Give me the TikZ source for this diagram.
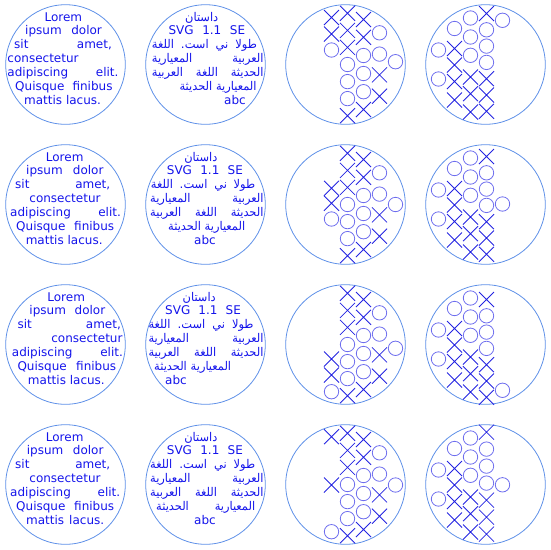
\documentclass[tikz,border=0pt]{standalone}
\usepackage{fontspec}
\setmainfont{DejaVu Sans}
\newfontfamily\arabicfont[Script=Arabic, FakeStretch=0.95]{DejaVu Sans}
\TeXXeTstate=1
\definecolor{rimblue}{RGB}{95,145,232}
\definecolor{textblue}{RGB}{20,20,235}
\definecolor{crossblue}{RGB}{35,35,225}
\definecolor{ringblue}{RGB}{110,110,238}
\newcommand{\ar}[1]{{\arabicfont\beginR #1\endR}}
\newcommand{\jl}[5]{\node[txt, anchor=base west] (#1) at (#2,#3) {\makebox[#4pt][s]{#5}};}

\begin{document}
\begin{tikzpicture}[x=1pt, y=-1pt,
    rim/.style={draw=rimblue, line width=0.8pt},
    txt/.style={text=textblue, inner sep=0pt, font=\fontsize{12}{14}\selectfont},
    crossglyph/.style={draw=crossblue, line width=0.8pt},
    ringglyph/.style={draw=ringblue, line width=0.8pt}
]
\useasboundingbox (0,0) rectangle (550,550);

\foreach \r in {0,...,3}
  \foreach \c in {0,...,3}
    \draw[rim] ({65.5+140*\c},{64.5+140*\r}) circle[radius=59.8];

% row 1
\node[txt, anchor=base] (lat1a) at (63.3,21) {Lorem};
\jl{lat1b}{25}{34.9}{76.7}{ipsum\hfill dolor}
\jl{lat1c}{14}{48.8}{97.7}{sit\hfill amet,}
\node[txt, anchor=base west] (lat1d) at (7.3,62.7) {consectetur};
\jl{lat1e}{7.3}{76.6}{111}{adipiscing\hfill elit.}
\jl{lat1f}{15}{90.5}{97.3}{Quisque\hfill finibus}
\node[txt, anchor=base west] (lat1g) at (24,104.4) {mattis lacus.};

\node[txt, anchor=base] (ara1a) at (201.7,21) {\ar{داستان}};
\jl{ara1b}{168.3}{34.9}{76.7}{SVG\hfill 1.1\hfill SE}
\jl{ara1c}{151.7}{48.8}{105}{\ar{اللغة}\hfill .\ar{است}\hfill\ar{ني}\hfill\ar{طولا}}
\jl{ara1d}{151.7}{62.7}{111.6}{\ar{المعيارية}\hfill\ar{العربية}}
\jl{ara1e}{151.7}{76.6}{111.6}{\ar{العربية}\hfill\ar{اللغة}\hfill\ar{الحديثة}}
\node[txt, anchor=base east] (ara1f) at (256.7,90.5) {\ar{الحديثة} \ar{المعيارية}};
\node[txt, anchor=base east] (ara1g) at (246,104.4) {abc};

% row 2
\begin{scope}[shift={(0,140)}]
\node[txt, anchor=base] (lat2a) at (64.7,21) {Lorem};
\jl{lat2b}{26}{34.9}{77.3}{ipsum\hfill dolor}
\jl{lat2c}{15}{48.8}{95}{sit\hfill amet,}
\node[txt, anchor=base] (lat2d) at (65,62.7) {consectetur};
\jl{lat2e}{10}{76.6}{110.7}{adipiscing\hfill elit.}
\jl{lat2f}{16}{90.5}{98}{Quisque\hfill finibus}
\node[txt, anchor=base] (lat2g) at (64.2,104.4) {mattis lacus.};

\node[txt, anchor=base] (ara2a) at (200.8,21) {\ar{داستان}};
\jl{ara2b}{166.7}{34.9}{76}{SVG\hfill 1.1\hfill SE}
\jl{ara2c}{150.7}{48.8}{104.3}{\ar{اللغة}\hfill .\ar{است}\hfill\ar{ني}\hfill\ar{طولا}}
\jl{ara2d}{150}{62.7}{113.3}{\ar{المعيارية}\hfill\ar{العربية}}
\jl{ara2e}{150}{76.6}{113.3}{\ar{العربية}\hfill\ar{اللغة}\hfill\ar{الحديثة}}
\node[txt, anchor=base] (ara2f) at (206.7,90.5) {\ar{الحديثة} \ar{المعيارية}};
\node[txt, anchor=base] (ara2g) at (205,104.4) {abc};
\end{scope}

% row 3
\begin{scope}[shift={(0,280)}]
\node[txt, anchor=base] (lat3a) at (66.2,21) {Lorem};
\jl{lat3b}{29.3}{34.9}{75.7}{ipsum\hfill dolor}
\jl{lat3c}{17.3}{48.8}{103.4}{sit\hfill amet,}
\node[txt, anchor=base east] (lat3d) at (122.7,62.7) {consectetur};
\jl{lat3e}{11.7}{76.6}{111}{adipiscing\hfill elit.}
\jl{lat3f}{17.3}{90.5}{98.7}{Quisque\hfill finibus}
\node[txt, anchor=base east] (lat3g) at (105,104.4) {mattis lacus.};

\node[txt, anchor=base] (ara3a) at (199.2,21) {\ar{داستان}};
\jl{ara3b}{165}{34.9}{75.7}{SVG\hfill 1.1\hfill SE}
\jl{ara3c}{148.3}{48.8}{105}{\ar{اللغة}\hfill .\ar{است}\hfill\ar{ني}\hfill\ar{طولا}}
\jl{ara3d}{148.3}{62.7}{115}{\ar{المعيارية}\hfill\ar{العربية}}
\jl{ara3e}{148.3}{76.6}{115}{\ar{العربية}\hfill\ar{اللغة}\hfill\ar{الحديثة}}
\node[txt, anchor=base west] (ara3f) at (154,90.5) {\ar{الحديثة} \ar{المعيارية}};
\node[txt, anchor=base west] (ara3g) at (165,104.4) {abc};
\end{scope}

% row 4
\begin{scope}[shift={(0,420)}]
\node[txt, anchor=base] (lat4a) at (64.7,21) {Lorem};
\jl{lat4b}{26.7}{34.9}{76.6}{ipsum\hfill dolor}
\jl{lat4c}{15}{48.8}{95}{sit\hfill amet,}
\node[txt, anchor=base] (lat4d) at (65,62.7) {consectetur};
\jl{lat4e}{10}{76.6}{110}{adipiscing\hfill elit.}
\jl{lat4f}{16}{90.5}{98}{Quisque\hfill finibus}
\jl{lat4g}{26}{104.4}{78}{mattis\hfill lacus.}

\node[txt, anchor=base] (ara4a) at (200.8,21) {\ar{داستان}};
\jl{ara4b}{166.7}{34.9}{76}{SVG\hfill 1.1\hfill SE}
\jl{ara4c}{150}{48.8}{105}{\ar{اللغة}\hfill .\ar{است}\hfill\ar{ني}\hfill\ar{طولا}}
\jl{ara4d}{150}{62.7}{113.3}{\ar{المعيارية}\hfill\ar{العربية}}
\jl{ara4e}{150}{76.6}{113.3}{\ar{العربية}\hfill\ar{اللغة}\hfill\ar{الحديثة}}
\jl{ara4f}{156}{90.5}{99}{\ar{الحديثة}\hfill\ar{المعيارية}}
\node[txt, anchor=base] (ara4g) at (205,104.4) {abc};
\end{scope}

% vertical glyph columns, right to left
\foreach \r/\ya/\yb/\yc/\ye in {0/-47/-30.5/-14.5/-2.8, 1/-16.2/-1.2/14.5/0,
    2/14.5/30.5/47.2/3.8, 3/-47.8/0.5/47.2/0.5} {
  \begin{scope}[shift={(345.5,{64.5+140*\r})}]
    \foreach \x/\y in {2/-51.2, 2/-34.1, 2/-17.1, 2/51.2, 18/-45, 18/-27.2, 18/45,
        34/10.4, 34/31.7, -14/\ya, -14/\yb}
      \draw[crossglyph] (\x,\y) ++(-7.5,-7.5) -- ++(15,15) ++(-15,0) -- ++(15,-15);
    \foreach \x/\y in {2/0, 2/17.1, 2/34.1, 18/-9, 18/9, 18/27.2, 34/-31.7, 34/-10.4,
        -14/\yc, 50/\ye}
      \draw[ringglyph] (\x,\y) circle[radius=7.2];
  \end{scope}
}

% vertical glyph columns, left to right
\foreach \r/\s/\p/\f in {0/-51/16.3/-44.2, 1/-48/16.3/-0.5, 2/-45/16.3/45.8, 3/-52.4/17/0.3} {
  \begin{scope}[shift={(485.5,{64.5+140*\r})}]
    \foreach \x/\y in {-31/-16, -31/0.5, -31/17, -31/35.5, -15/12.5, -15/29.2, -15/47.5,
        1/\s, 1/{\s+4*\p}, 1/{\s+5*\p}, 1/{\s+6*\p}}
      \draw[crossglyph] (\x,\y) ++(-7.5,-7.5) -- ++(15,15) ++(-15,0) -- ++(15,-15);
    \foreach \x/\y in {-47/-14.5, -47/14.5, -31/-36, -15/-46.5, -15/-27.5, -15/-9.2,
        1/{\s+\p}, 1/{\s+2*\p}, 1/{\s+3*\p}, 17/\f}
      \draw[ringglyph] (\x,\y) circle[radius=7.2];
  \end{scope}
}
\end{tikzpicture}
\end{document}
